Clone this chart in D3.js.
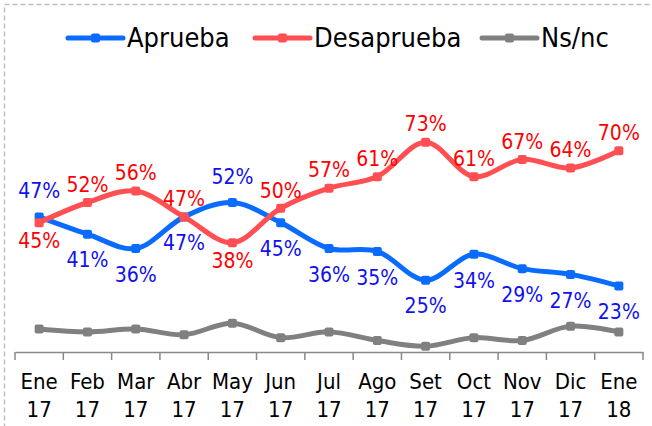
<!DOCTYPE html>
<html>
<head>
<meta charset="utf-8">
<script src="https://cdn.jsdelivr.net/npm/d3@7"></script>
<style>
  body { margin: 0; background: #fff; }
  text { font-family: "DejaVu Sans Condensed", "DejaVu Sans", sans-serif; }
</style>
</head>
<body>
<script>
var months = ["Ene", "Feb", "Mar", "Abr", "May", "Jun", "Jul", "Ago", "Set", "Oct", "Nov", "Dic", "Ene"];
var years = ["17", "17", "17", "17", "17", "17", "17", "17", "17", "17", "17", "17", "18"];
var aprueba = [47, 41, 36, 47, 52, 45, 36, 35, 25, 34, 29, 27, 23];
var desaprueba = [45, 52, 56, 47, 38, 50, 57, 61, 73, 61, 67, 64, 70];
var nsnc = [8, 7, 8, 6, 10, 5, 7, 4, 2, 5, 4, 9, 7];
// where each label sits: "a" above, "b" below the point
var apruebaPos = ["a", "b", "b", "b", "a", "b", "b", "b", "b", "b", "b", "b", "b"];
var desapruebaPos = ["b", "a", "a", "a", "b", "a", "a", "a", "a", "a", "a", "a", "a"];

var width = 652, height = 426;

var svg = d3.select("body").append("svg")
    .attr("width", width)
    .attr("height", height);

// dashed chart border
svg.append("rect")
    .attr("x", 4.5).attr("y", 4.5)
    .attr("width", 720).attr("height", 500)
    .attr("fill", "none")
    .attr("stroke", "#c0c0c0")
    .attr("stroke-width", 1.5)
    .attr("stroke-dasharray", "5,3");

var idx = d3.range(months.length);

var xBand = d3.scaleBand()
    .domain(idx)
    .range([15, 643]);

var x = function(i) { return xBand(i) + xBand.bandwidth() / 2; };

var y = d3.scaleLinear()
    .domain([0, 100])
    .range([352, 64.5]);

// x axis
var axis = d3.axisBottom(xBand)
    .tickSize(0)
    .tickFormat("");
var gx = svg.append("g")
    .attr("transform", "translate(0," + y(0) + ")")
    .call(axis);
gx.select(".domain").attr("stroke", "#898989").attr("stroke-width", 1.5);
gx.selectAll(".tick").remove();

var edges = idx.map(function(i) { return xBand(i); }).concat([xBand(idx.length - 1) + xBand.bandwidth()]);
gx.selectAll("line.edge")
    .data(edges)
    .enter().append("line")
    .attr("class", "edge")
    .attr("x1", function(d) { return d; })
    .attr("x2", function(d) { return d; })
    .attr("y1", 0)
    .attr("y2", 8)
    .attr("stroke", "#898989")
    .attr("stroke-width", 1.5);

var lab = svg.append("g").attr("font-size", 22).attr("fill", "#000").attr("text-anchor", "middle");
lab.selectAll("text.m")
    .data(idx).enter().append("text")
    .attr("class", "m")
    .attr("x", x)
    .attr("y", 389)
    .text(function(i) { return months[i]; });
lab.selectAll("text.yr")
    .data(idx).enter().append("text")
    .attr("class", "yr")
    .attr("x", x)
    .attr("y", 417)
    .text(function(i) { return years[i]; });

var line = d3.line()
    .x(function(d, i) { return x(i); })
    .y(function(d) { return y(d); })
    .curve(d3.curveCatmullRom.alpha(0.5));

var series = [
  {name: "Ns/nc", values: nsnc, color: "#808080"},
  {name: "Aprueba", values: aprueba, color: "#0a6cff", labelColor: "#1010f0", pos: apruebaPos, off: 26},
  {name: "Desaprueba", values: desaprueba, color: "#ff4f52", labelColor: "#ff0000", pos: desapruebaPos, off: 18}
];

series.forEach(function(s) {
  var g = svg.append("g");
  g.append("path")
    .datum(s.values)
    .attr("d", line)
    .attr("fill", "none")
    .attr("stroke", s.color)
    .attr("stroke-width", 5)
    .attr("stroke-linejoin", "round");
  g.selectAll("rect")
    .data(s.values).enter().append("rect")
    .attr("x", function(d, i) { return x(i) - 4.5; })
    .attr("y", function(d) { return y(d) - 4.5; })
    .attr("width", 9).attr("height", 9)
    .attr("rx", 2)
    .attr("fill", s.color);
});

series.slice(1).forEach(function(s) {
  svg.append("g")
    .attr("font-size", 21)
    .attr("text-anchor", "middle")
    .attr("fill", s.labelColor)
    .selectAll("text")
    .data(s.values).enter().append("text")
    .attr("x", function(d, i) { return Math.min(x(i), 627); })
    .attr("y", function(d, i) { return y(d) + (s.pos[i] === "a" ? -s.off : s.off); })
    .attr("dy", "0.35em")
    .text(function(d) { return d + "%"; });
});

// legend
var legendX = [68, 255, 482];
var legendOrder = [series[1], series[2], series[0]];
var lg = svg.append("g").attr("transform", "translate(0,38)");
legendOrder.forEach(function(s, k) {
  var g = lg.append("g").attr("transform", "translate(" + legendX[k] + ",0)");
  g.append("line")
    .attr("x1", 0).attr("x2", 55)
    .attr("stroke", s.color)
    .attr("stroke-width", 5)
    .attr("stroke-linecap", "round");
  g.append("rect")
    .attr("x", 23).attr("y", -4.5)
    .attr("width", 9).attr("height", 9).attr("rx", 2)
    .attr("fill", s.color);
  g.append("text")
    .attr("x", 59)
    .attr("dy", "0.35em")
    .attr("font-size", 27)
    .attr("fill", "#000")
    .text(s.name);
});
</script>
</body>
</html>
